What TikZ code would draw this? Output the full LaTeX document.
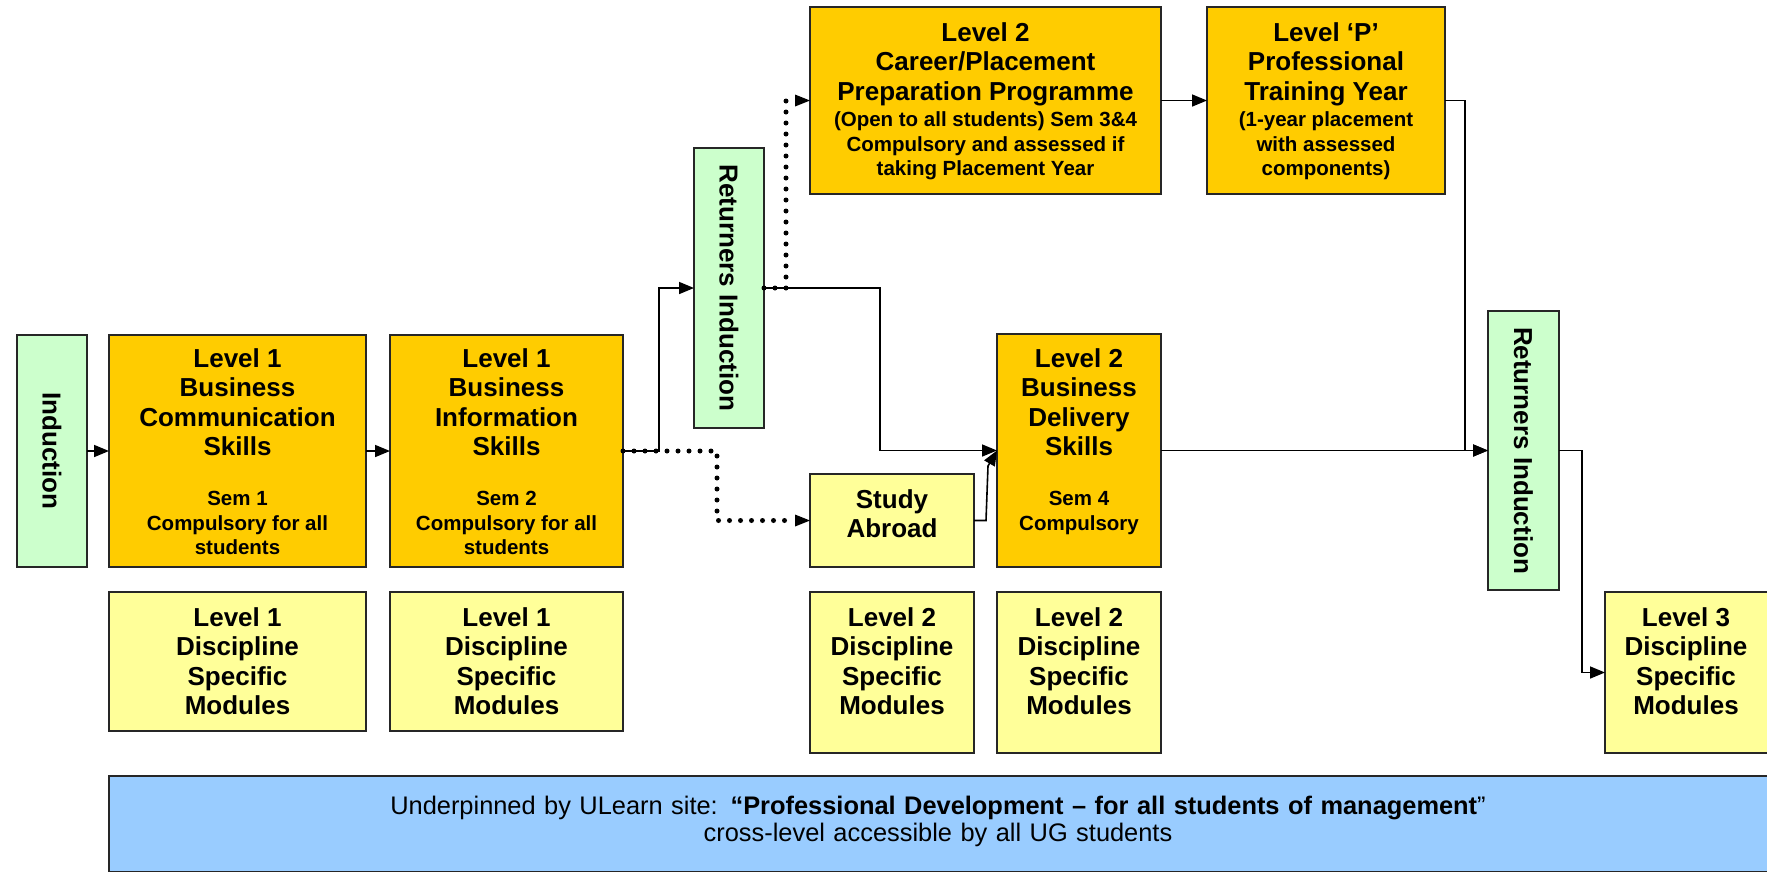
\documentclass[tikz,border=0pt]{standalone}
\usepackage{fontspec}
\setmainfont{Liberation Sans}
\usetikzlibrary{arrows.meta}
\definecolor{gold}{HTML}{FFCC00}
\definecolor{paleyel}{HTML}{FFFF99}
\definecolor{palegrn}{HTML}{CCFFCC}
\definecolor{paleblu}{HTML}{99CCFF}
\newcommand\fixsp{\spaceskip=\fontdimen2\font\xspaceskip=\fontdimen2\font\relax}
\newcommand\bigf{\fontsize{26}{29.5}\selectfont\bfseries\fixsp}
\newcommand\smf{\fontsize{20.5}{24.5}\selectfont\bfseries\fixsp}
\newcommand\botf{\fontsize{25.4}{27}\selectfont\fixsp}
\begin{document}
\begin{tikzpicture}[x=1pt,y=-1pt,
  bx/.style={draw=black!85, line width=1.6pt, inner sep=0pt, outer sep=0pt, anchor=north west},
  gbox/.style={bx, fill=gold},
  ybox/.style={bx, fill=paleyel},
  nbox/.style={bx, fill=palegrn},
  txt/.style={align=center, inner sep=0pt, anchor=base, text width=#1},
  vtxt/.style={rotate=-90, inner sep=0pt, font=\bigf},
  arr/.style={line width=1.6pt, -{Triangle[length=15pt,width=12pt]}},
  dotarr/.style={line width=5pt, line cap=round, dash pattern=on 0pt off 11pt,
     -{Triangle[length=15pt,width=12pt,line width=0pt]}},
]
\path[use as bounding box] (0,0) rectangle (1767,871);
\clip (0,0) rectangle (1767,871);

% boxes
\node[nbox, minimum width=70, minimum height=232] (ind) at (17,335) {};
\node[vtxt] (indt) at (ind.center) {Induction};

\node[gbox, minimum width=257, minimum height=232] (bcs) at (109,335) {};
\node[txt=250] (bcst) at (237.5,367) {{\bigf Level 1\\Business\\Communication\\Skills\par}\vspace{25.5pt}{\smf Sem 1\\Compulsory for all\\students\par}};

\node[gbox, minimum width=233, minimum height=232] (bis) at (390,335) {};
\node[txt=228] (bist) at (506.5,367) {{\bigf Level 1\\Business\\Information\\Skills\par}\vspace{25.5pt}{\smf Sem 2\\Compulsory for all\\students\par}};

\node[ybox, minimum width=257, minimum height=139] (dsm1) at (109,592) {};
\node[txt=250] (dsm1t) at (237.5,626) {\bigf Level 1\\Discipline\\Specific\\Modules\par};

\node[ybox, minimum width=233, minimum height=139] (dsm2) at (390,592) {};
\node[txt=228] (dsm2t) at (506.5,626) {\bigf Level 1\\Discipline\\Specific\\Modules\par};

\node[nbox, minimum width=70, minimum height=280] (ri1) at (694,148) {};
\node[vtxt] (ri1t) at (ri1.center) {Returners Induction};

\node[gbox, minimum width=351, minimum height=187] (car) at (810,7) {};
\node[txt=345] (cart) at (985.5,41) {{\bigf Level 2\\Career/Placement\\Preparation Programme\par}\vspace{2pt}{\smf (Open to all students) Sem 3\&4\\Compulsory and assessed if\\taking Placement Year\par}};

\node[gbox, minimum width=238, minimum height=187] (lp) at (1207,7) {};
\node[txt=232] (lpt) at (1326,41) {{\bigf Level ‘P’\\Professional\\Training Year\par}\vspace{2pt}{\smf (1-year placement\\with assessed\\components)\par}};

\node[gbox, minimum width=164, minimum height=233] (bds) at (997,334) {};
\node[txt=160] (bdst) at (1079,367) {{\bigf Level 2\\Business\\Delivery\\Skills\par}\vspace{25.5pt}{\smf Sem 4\\Compulsory\par}};

\node[ybox, minimum width=164, minimum height=93] (sa) at (810,474) {};
\node[txt=160] (sat) at (892,508.3) {\bigf Study\\Abroad\par};

\node[ybox, minimum width=164, minimum height=161] (dsm3) at (810,592) {};
\node[txt=160] (dsm3t) at (892,626) {\bigf Level 2\\Discipline\\Specific\\Modules\par};

\node[ybox, minimum width=164, minimum height=161] (dsm4) at (997,592) {};
\node[txt=160] (dsm4t) at (1079,626) {\bigf Level 2\\Discipline\\Specific\\Modules\par};

\node[nbox, minimum width=71, minimum height=279] (ri2) at (1488,311) {};
\node[vtxt] (ri2t) at (ri2.center) {Returners Induction};

\node[ybox, minimum width=163, minimum height=161] (dsm5) at (1605,592) {};
\node[txt=158] (dsm5t) at (1686,626) {\bigf Level 3\\Discipline\\Specific\\Modules\par};

\node[bx, fill=paleblu, minimum width=1670, minimum height=96] (bot) at (109,776) {};
\node[txt=1500, font=\botf] (bott) at (938,814) {Underpinned by ULearn site: \textbf{“Professional Development – for all students of management}”\\cross-level accessible by all UG students\par};

% bend points
\coordinate (b1) at (659,451);
\coordinate (b2) at (717,451);
\coordinate (b3) at (880,288);
\coordinate (b4) at (786,288);
\coordinate (b5) at (986,520.5);
\coordinate (b6) at (988,466);
\coordinate (b7) at (1465,100.5);
\coordinate (b8) at (1582,450.5);

% connectors
\draw[arr] (ind.east) -- (bcs.west);
\draw[arr] (bcs.east) -- (bis.west);
\draw[arr] (bis.east) -- (b1) |- (ri1.west);
\draw[dotarr] (bis.east) -- (b2) |- (sa.west);
\draw[arr] (ri1.east) -- (b3) |- (bds.west);
\draw[dotarr] (ri1.east) -- (b4) |- (car.west);
\draw[arr] (sa.east) -- (b5) -- (b6) -- (bds.west);
\draw[arr] (car.east) -- (lp.west);
\draw[arr] (lp.east) -- (b7) |- (ri2.west);
\draw[arr] (bds.east) -- (ri2.west);
\draw[arr] (ri2.east) -- (b8) |- (dsm5.west);
\end{tikzpicture}
\end{document}
